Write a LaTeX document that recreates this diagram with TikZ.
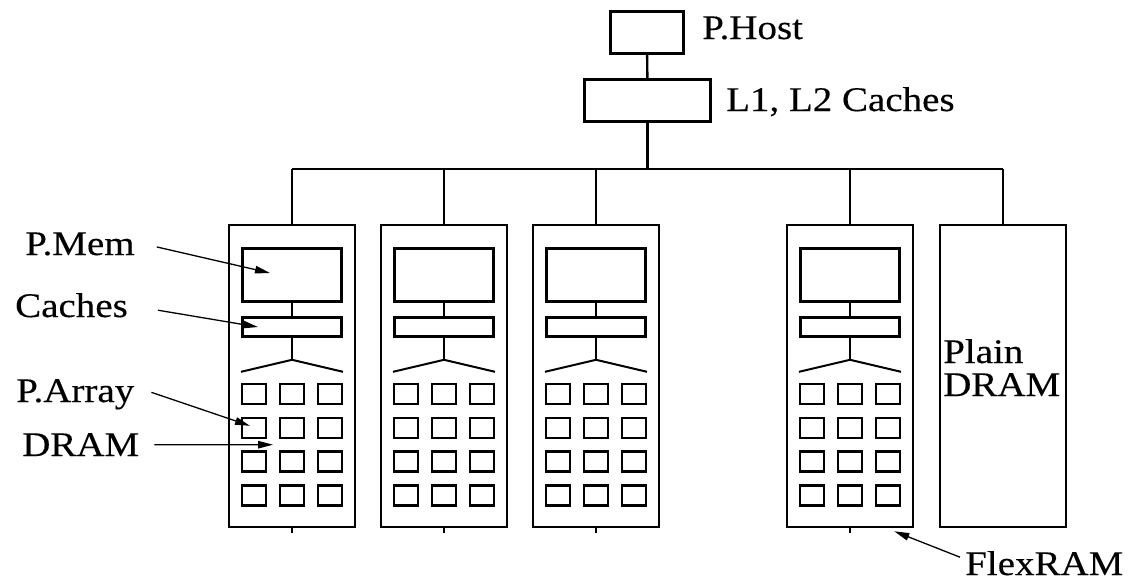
\documentclass[tikz,border=0pt]{standalone}
\usepackage{fontspec}
\setmainfont[FakeStretch=1.13,FakeBold=0.3]{Liberation Serif}
\usetikzlibrary{arrows.meta,positioning,calc}

\begin{document}
\begin{tikzpicture}[
  x=1pt, y=-1pt,
  >={Triangle[length=15pt,width=7.5pt]},
  font=\fontsize{34.5pt}{33pt}\selectfont,
  chip/.style ={draw, line width=2.6pt, inner sep=0pt,
                minimum width=126pt, minimum height=302pt},
  blk/.style  ={draw, line width=2.6pt, inner sep=0pt},
  cell/.style ={draw, line width=2.6pt, inner sep=0pt,
                minimum width=24pt, minimum height=20pt},
  wire/.style ={line width=2.4pt},
  pin/.style  ={->, line width=1.3pt},
  lbl/.style  ={inner sep=0pt, anchor=base west},
]
\useasboundingbox (0,0) rectangle (1134,581);

% ---- host side ---------------------------------------------------------------------
\node[blk, minimum width=73pt, minimum height=42pt] (host) at (647,32.5) {};
\node[blk, minimum width=126pt, minimum height=42pt] (l12) at (647.5,100.5) {};
\node[lbl] (lhost) at (702,39) {P.Host};
\node[lbl] (ll12) at (726,111) {L1, L2 Caches};

\coordinate (bus)  at (647.5,169);
\coordinate (busl) at (292,169);
\coordinate (busr) at (1003,169);
\draw[wire] (host) -- (l12);
\draw[wire] (l12) -- (bus);
\draw[wire] (busl) -- (busr);

% ---- the FlexRAM chips: memory, cache, fork, then a 4x3 array ----------------------
% x is the chip's centre; there is a spare slot between the third and the fourth chip.
\foreach \i/\cx in {1/292, 2/444, 3/596, 4/850} {
  \node[chip] (mod\i) at (\cx,376) {};
  \node[blk, minimum width=99pt, minimum height=53pt] (mem\i) at (\cx,275) {};
  \node[blk, minimum width=99pt, minimum height=19pt] (cac\i) at (\cx,327) {};
  \draw[wire] (\cx,169) -- (mod\i.north);
  \draw[wire] (mem\i) -- (cac\i);
  \draw[wire] (cac\i.south) -- ++(0,22) coordinate (fork\i);
  \draw[line width=2pt] (fork\i) -- ++(-51,12);
  \draw[line width=2pt] (fork\i) -- ++(51,12);
  \foreach \r in {1,...,4}
    \foreach \c in {1,2,3}
      \node[cell] (c\i-\r-\c) at ({\cx+(\c-2)*38}, {394+(\r-1)*33.8}) {};
  \draw[line width=1.6pt] (mod\i.south) -- ++(0,5);
}

% ---- plain DRAM chip on the same bus ------------------------------------------------
\node[chip] (plain) at (1003,376) {};
\draw[wire] (busr) -- (plain.north);
\node[lbl] (lplain) at (943,363) {Plain};
\node[lbl] (ldram2) at (943,396) {DRAM};

% ---- callouts into the first chip ---------------------------------------------------
\node[lbl] (lmem)   at (25,255)  {P.Mem};
\node[lbl] (lcac)   at (15,317)  {Caches};
\node[lbl] (larr)   at (16,402)  {P.Array};
\node[lbl] (ldram)  at (22,456)  {DRAM};
\node[lbl] (lflex)  at (965,575) {FlexRAM};

\coordinate (tmem)  at ($(mem1)+(-22,-2)$);
\coordinate (tcac)  at ($(cac1)+(-34,0)$);
\coordinate (tarr)  at ($(c1-2-1)+(-4,-2)$);
\coordinate (tdram) at ($(c1-2-1.south east)!.5!(c1-3-2.north west)$);
\coordinate (tflex) at ($(mod4.south east)+(-20,3)$);

\draw[pin] ([shift={(22,3)}]lmem.east)  -- (tmem);
\draw[pin] ([shift={(30,5)}]lcac.east)  -- (tcac);
\draw[pin] ([shift={(17,-2)}]larr.east) -- (tarr);
\draw[pin] ([shift={(15,0)}]ldram.east) -- (tdram);
\draw[pin] ([shift={(-5,-6)}]lflex.west) -- (tflex);

\end{tikzpicture}
\end{document}
